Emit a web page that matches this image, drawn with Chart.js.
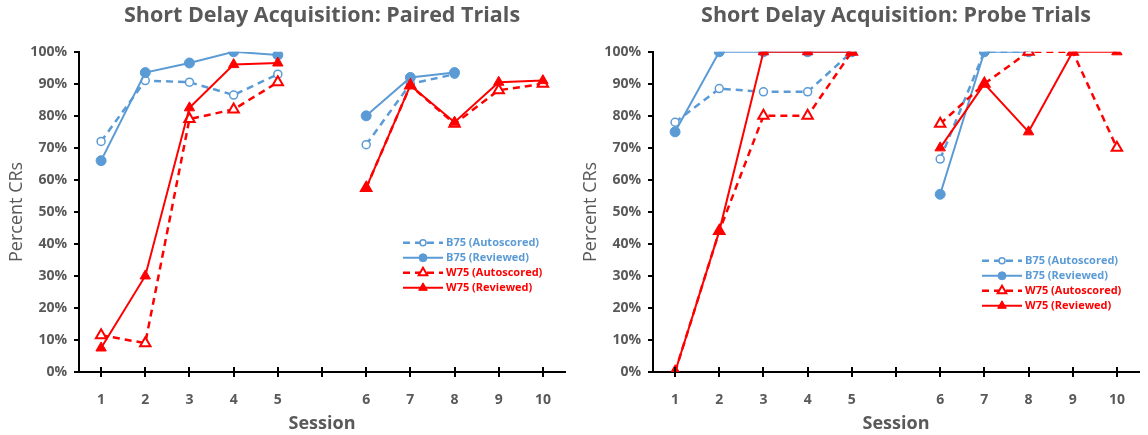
<!DOCTYPE html>
<html lang="en">
<head>
    <meta charset="UTF-8">
    <title>Short Delay Acquisition</title>
    <script src="https://cdn.jsdelivr.net/npm/chart.js"></script>
    <style>
        body { margin: 0; background: #fff; }
        .box { position: absolute; top: 0; width: 574px; height: 435px; }
    </style>
</head>
<body>
    <div class="box" style="left: 0;"><canvas id="paired" width="574" height="435"></canvas></div>
    <div class="box" style="left: 574px;"><canvas id="probe" width="574" height="435"></canvas></div>

    <script>
        // sessions (empty slot = break between blocks)
        const sessions = ['1', '2', '3', '4', '5', '', '6', '7', '8', '9', '10'];

        // Paired trials, percent CRs
        const pairedB75Auto = [72, 91, 90.5, 86.5, 93, null, 71, 90, 93, null, null];
        const pairedB75Rev  = [66, 93.5, 96.5, 100, 99, null, 80, 92, 93.5, null, null];
        const pairedW75Auto = [11.5, 9, 79, 82, 90.5, null, 57.5, 89.5, 77.5, 88, 90];
        const pairedW75Rev  = [7.5, 30, 82.5, 96, 96.5, null, 57.5, 89.5, 78, 90.5, 91];

        // Probe trials, percent CRs
        const probeB75Auto = [78, 88.5, 87.5, 87.5, 100, null, 66.5, 100, 100, null, null];
        const probeB75Rev  = [75, 100, 100, 100, 100, null, 55.5, 100, 100, null, null];
        const probeW75Auto = [0, 44, 80, 80, 100, null, 77.5, 90, 100, 100, 70];
        const probeW75Rev  = [0, 44, 100, 100, 100, null, 70, 90, 75, 100, 100];

        const seriesNames = ['B75 (Autoscored)', 'B75 (Reviewed)', 'W75 (Autoscored)', 'W75 (Reviewed)'];

        const BLUE = '#5b9bd5';
        const RED = '#ff0000';
        const GREY = '#595959';
        const FONT = '"Open Sans", sans-serif';

        function makeDatasets(b75a, b75r, w75a, w75r) {
            return [
                {
                    label: seriesNames[0], data: b75a, order: 3,
                    borderColor: BLUE, borderWidth: 2.5, borderDash: [7, 5],
                    pointStyle: 'circle', pointRadius: 4, pointBorderWidth: 1.5,
                    pointBackgroundColor: '#fff', pointBorderColor: BLUE
                },
                {
                    label: seriesNames[1], data: b75r, order: 2,
                    borderColor: BLUE, borderWidth: 2,
                    pointStyle: 'circle', pointRadius: 5, pointBorderWidth: 1,
                    pointBackgroundColor: BLUE, pointBorderColor: BLUE
                },
                {
                    label: seriesNames[2], data: w75a, order: 1,
                    borderColor: RED, borderWidth: 2.5, borderDash: [7, 5],
                    pointStyle: 'triangle', pointRadius: 6, pointBorderWidth: 2,
                    pointBackgroundColor: '#fff', pointBorderColor: RED
                },
                {
                    label: seriesNames[3], data: w75r, order: 0,
                    borderColor: RED, borderWidth: 2,
                    pointStyle: 'triangle', pointRadius: 6, pointBorderWidth: 1,
                    pointBackgroundColor: RED, pointBorderColor: RED
                }
            ];
        }

        // legend inside the plot + the upper half of the crossing x tick marks
        const innerLegend = {
            id: 'innerLegend',
            afterDatasetsDraw(chart, args, opts) {
                const ctx = chart.ctx;
                const xs = chart.scales.x;
                ctx.save();
                ctx.strokeStyle = '#000';
                ctx.lineWidth = 2;
                xs.ticks.forEach((t, i) => {
                    const px = Math.round(xs.getPixelForTick(i));
                    ctx.beginPath();
                    ctx.moveTo(px, chart.chartArea.bottom - 5);
                    ctx.lineTo(px, chart.chartArea.bottom);
                    ctx.stroke();
                });

                const x0 = chart.chartArea.left + opts.x;
                let y = chart.chartArea.top + opts.y;
                ctx.font = 'bold 11px ' + FONT;
                ctx.textBaseline = 'middle';
                chart.data.datasets.forEach(ds => {
                    ctx.strokeStyle = ds.borderColor;
                    ctx.lineWidth = ds.borderWidth;
                    ctx.setLineDash(ds.borderDash || []);
                    ctx.beginPath();
                    ctx.moveTo(x0, y);
                    ctx.lineTo(x0 + 40, y);
                    ctx.stroke();
                    ctx.setLineDash([]);
                    ctx.fillStyle = ds.pointBackgroundColor;
                    ctx.strokeStyle = ds.pointBorderColor;
                    ctx.lineWidth = ds.pointBorderWidth;
                    Chart.helpers.drawPoint(ctx, {
                        pointStyle: ds.pointStyle,
                        radius: ds.pointRadius - 1,
                        rotation: 0,
                        borderWidth: ds.pointBorderWidth
                    }, x0 + 20, y);
                    ctx.fillStyle = ds.borderColor;
                    ctx.fillText(ds.label, x0 + 43, y);
                    y += 15;
                });
                ctx.restore();
            }
        };

        function makeChart(id, title, datasets, legendPos) {
            const ctx = document.getElementById(id).getContext('2d');
            return new Chart(ctx, {
                type: 'line',
                data: { labels: sessions, datasets: datasets },
                plugins: [innerLegend],
                options: {
                    responsive: false,
                    animation: false,
                    spanGaps: false,
                    layout: { padding: { left: 6, right: 9, top: 0, bottom: 0 } },
                    elements: { line: { tension: 0 } },
                    plugins: {
                        legend: { display: false },
                        tooltip: { enabled: false },
                        title: {
                            display: true,
                            fullSize: false,
                            text: title,
                            color: GREY,
                            font: { family: FONT, size: 21.5, weight: 'bold' },
                            padding: { top: 3, bottom: 23 }
                        },
                        innerLegend: legendPos
                    },
                    scales: {
                        x: {
                            type: 'category',
                            offset: true,
                            afterFit: scale => { scale.height = 63; },
                            grid: {
                                offset: false,
                                drawOnChartArea: false,
                                drawTicks: true,
                                tickLength: 5,
                                color: '#000',
                                lineWidth: 2
                            },
                            border: { color: '#000', width: 2 },
                            ticks: {
                                color: GREY,
                                font: { family: FONT, size: 14, weight: 'bold' },
                                maxRotation: 0,
                                autoSkip: false,
                                padding: 15
                            },
                            title: {
                                display: true,
                                text: 'Session',
                                color: GREY,
                                font: { family: FONT, size: 18, weight: 'bold' },
                                padding: { top: 0, bottom: 0 }
                            }
                        },
                        y: {
                            min: 0,
                            max: 100,
                            afterFit: scale => { scale.width = 73; },
                            grid: {
                                drawOnChartArea: false,
                                drawTicks: true,
                                tickLength: 5,
                                color: '#000',
                                lineWidth: 2
                            },
                            border: { color: '#000', width: 2 },
                            ticks: {
                                stepSize: 10,
                                color: GREY,
                                font: { family: FONT, size: 14, weight: 'bold' },
                                padding: 7,
                                callback: v => v + '%'
                            },
                            title: {
                                display: true,
                                text: 'Percent CRs',
                                color: GREY,
                                font: { family: FONT, size: 18 },
                                padding: { top: 0, bottom: 2 }
                            }
                        }
                    }
                }
            });
        }

        makeChart('paired', 'Short Delay Acquisition: Paired Trials',
            makeDatasets(pairedB75Auto, pairedB75Rev, pairedW75Auto, pairedW75Rev),
            { x: 324, y: 191 });
        makeChart('probe', 'Short Delay Acquisition: Probe Trials',
            makeDatasets(probeB75Auto, probeB75Rev, probeW75Auto, probeW75Rev),
            { x: 329, y: 209 });
    </script>
</body>
</html>
